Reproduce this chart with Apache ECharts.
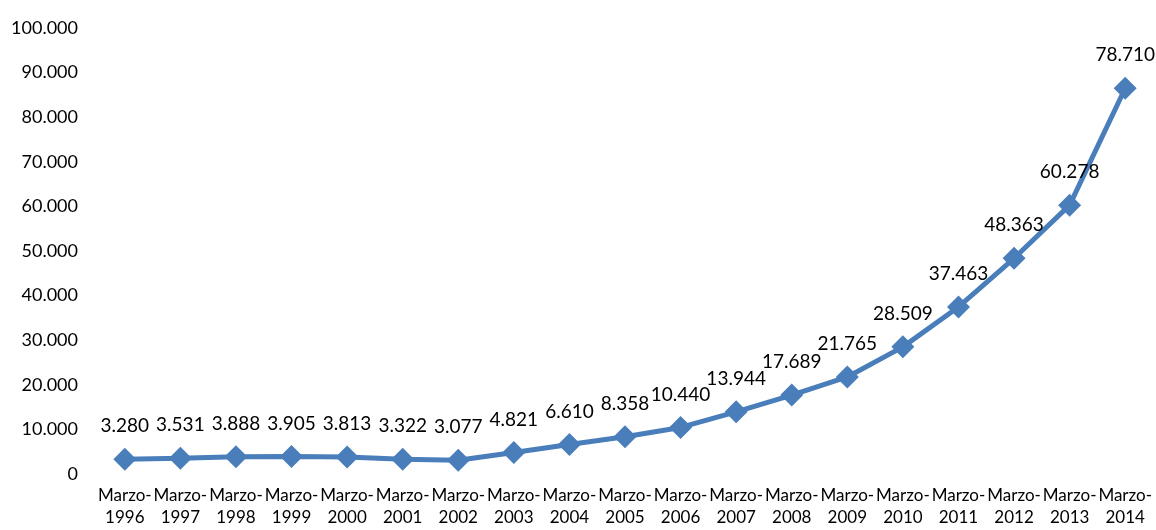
<!DOCTYPE html>
<html>
<head>
<meta charset="utf-8">
<script src="https://cdn.jsdelivr.net/npm/echarts@6/dist/echarts.min.js"></script>
<style>
html,body{margin:0;padding:0;background:#fff;}
#chart{width:1156px;height:530px;}
</style>
</head>
<body>
<div id="chart"></div>
<script>
// Categories (x axis)
var categories = ['Marzo-\n1996','Marzo-\n1997','Marzo-\n1998','Marzo-\n1999','Marzo-\n2000','Marzo-\n2001','Marzo-\n2002','Marzo-\n2003','Marzo-\n2004','Marzo-\n2005','Marzo-\n2006','Marzo-\n2007','Marzo-\n2008','Marzo-\n2009','Marzo-\n2010','Marzo-\n2011','Marzo-\n2012','Marzo-\n2013','Marzo-\n2014'];
// Plotted values
var values = [3280,3531,3888,3905,3813,3322,3077,4821,6610,8358,10440,13944,17689,21765,28509,37463,48363,60278,86500];
// Data label texts as shown in the picture
var labels = ['3.280','3.531','3.888','3.905','3.813','3.322','3.077','4.821','6.610','8.358','10.440','13.944','17.689','21.765','28.509','37.463','48.363','60.278','78.710'];
// Y tick settings
var yMin = 0, yMax = 100000, yInterval = 10000;

function fmtThousands(v){
  return String(v).replace(/\B(?=(\d{3})+(?!\d))/g, '.');
}

var chart = echarts.init(document.getElementById('chart'), null, {renderer:'canvas'});
chart.setOption({
  animation:false,
  backgroundColor:'#ffffff',
  textStyle:{fontFamily:'Lato'},
  grid:{left:97, right:3, top:28, bottom:56, containLabel:false},
  xAxis:{
    type:'category',
    data:categories,
    boundaryGap:true,
    axisLine:{show:false},
    axisTick:{show:false},
    splitLine:{show:false},
    axisLabel:{interval:0, color:'#000', fontSize:17, lineHeight:22, margin:11, fontFamily:'Lato'}
  },
  yAxis:{
    type:'value',
    min:yMin, max:yMax, interval:yInterval,
    axisLine:{show:false},
    axisTick:{show:false},
    splitLine:{show:false},
    axisLabel:{color:'#000', fontSize:18, margin:19, fontFamily:'Lato', formatter:function(v){return fmtThousands(v);}}
  },
  series:[{
    type:'line',
    data:values,
    symbol:'diamond',
    symbolSize:23,
    lineStyle:{color:'#4a7ebb', width:5},
    itemStyle:{color:'#4a7ebb'},
    label:{
      show:true, position:'top', distance:12,
      color:'#000', fontSize:19, fontFamily:'Lato',
      formatter:function(p){return labels[p.dataIndex];}
    }
  }]
});
</script>
</body>
</html>
